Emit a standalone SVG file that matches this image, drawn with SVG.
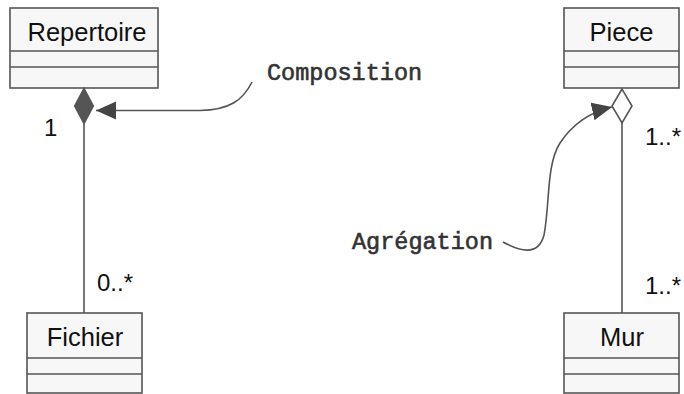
<svg xmlns="http://www.w3.org/2000/svg" width="684" height="394" viewBox="0 0 684 394">
<style>
.box{fill:#f7f7f7;stroke:#555;stroke-width:1.6}
.div{stroke:#555;stroke-width:1.6;fill:none}
.title{font-family:"Liberation Sans",Arial,sans-serif;font-size:25.5px;fill:#111;text-anchor:middle}
.mult{font-family:"Liberation Sans",Arial,sans-serif;font-size:24px;fill:#111}
.note{font-family:"Liberation Mono","Courier New",monospace;font-size:23.5px;fill:#333;stroke:#333;stroke-width:0.6}
.line{stroke:#555;stroke-width:1.6;fill:none}
</style>
<defs>
<marker id="arr" markerUnits="userSpaceOnUse" markerWidth="22" markerHeight="20" refX="20" refY="9" orient="auto">
<path d="M0,0 L20,9 L0,18 z" fill="#444"/>
</marker>
</defs>
<rect width="684" height="394" fill="#fff"/>
<g id="Repertoire">
<rect class="box" x="10" y="8" width="148" height="80"/>
<line class="div" x1="10" y1="51" x2="158" y2="51"/>
<line class="div" x1="10" y1="67" x2="158" y2="67"/>
<text class="title" x="87" y="41">Repertoire</text>
</g>
<g id="Piece">
<rect class="box" x="564" y="8" width="115" height="80"/>
<line class="div" x1="564" y1="51" x2="679" y2="51"/>
<line class="div" x1="564" y1="67" x2="679" y2="67"/>
<text class="title" x="621.5" y="41">Piece</text>
</g>
<g id="Fichier">
<rect class="box" x="27" y="313" width="115" height="80"/>
<line class="div" x1="27" y1="358" x2="142" y2="358"/>
<line class="div" x1="27" y1="374" x2="142" y2="374"/>
<text class="title" x="85" y="346">Fichier</text>
</g>
<g id="Mur">
<rect class="box" x="564" y="313" width="115" height="80"/>
<line class="div" x1="564" y1="358" x2="679" y2="358"/>
<line class="div" x1="564" y1="374" x2="679" y2="374"/>
<text class="title" x="622" y="346">Mur</text>
</g>
<g id="connectors">
<line class="line" x1="84" y1="124" x2="84" y2="313"/>
<path d="M84,88 L74.5,106 L84,124 L93.5,106 Z" fill="#555" stroke="#555" stroke-width="1.2"/>
<line class="line" x1="622" y1="123" x2="622" y2="313"/>
<path d="M622,89 L612,106 L622,123 L632,106 Z" fill="#fff" stroke="#555" stroke-width="1.6"/>
<path class="line" d="M252,82 C243,100 230,110 200,110.5 L96,110.5" marker-end="url(#arr)"/>
<path class="line" d="M503,242 C518,250 538,258 544,235 C550,205 546,165 560,143 C572,125 590,112 612,107" marker-end="url(#arr)"/>
</g>
<g id="labels">
<text class="mult" x="44" y="136">1</text>
<text class="mult" x="97" y="291">0..*</text>
<text class="mult" x="645" y="145">1..*</text>
<text class="mult" x="645" y="294">1..*</text>
<text class="note" x="267" y="80">Composition</text>
<text class="note" x="352" y="249">Agrégation</text>
</g>
</svg>
